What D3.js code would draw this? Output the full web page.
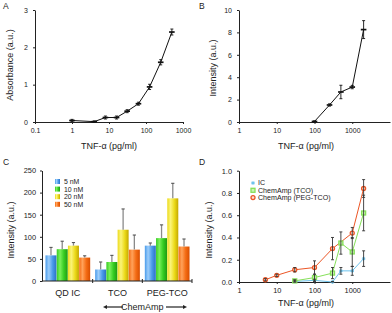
<!DOCTYPE html>
<html>
<head>
<meta charset="utf-8">
<script src="https://cdn.jsdelivr.net/npm/d3@7"></script>
<style>
  body { margin: 0; background: #fff; }
  svg { display: block; font-family: "Liberation Sans", Arial, sans-serif; }
  .axis path, .axis line { stroke: #222; }
  .axis text { fill: #222; font-size: 7px; font-family: "Liberation Sans", Arial, sans-serif; }
  .axis.big text { font-size: 7.4px; }
</style>
</head>
<body>
<script>
// panel A - absorbance
const aConc = [1, 4, 8, 16, 31, 62.5, 125, 250, 500];
const aAbs = [0.04, 0.01, 0.12, 0.12, 0.29, 0.49, 0.94, 1.6, 2.41];
const aErr = [0.03, 0.02, 0.04, 0.04, 0.04, 0.04, 0.07, 0.07, 0.08];
const aXTicks = [0.1, 1, 10, 100, 1000];
const aYTicks = [0, 1, 2, 3];

// panel B - intensity
const bConc = [100, 250, 500, 1000, 2000];
const bInt = [0.05, 1.52, 2.68, 3.12, 8.25];
const bErr = [0.05, 0.1, 0.6, 0.15, 0.8];
const bYTicks = [0, 2, 4, 6, 8, 10];

// panel C - bars
const cGroups = ["QD IC", "TCO", "PEG-TCO"];
const cLevels = ["5 nM", "10 nM", "20 nM", "50 nM"];
const cQD = [58, 72, 80, 53];
const cQDErr = [18, 18, 7, 4];
const cTCO = [26, 43, 116, 71];
const cTCOErr = [17, 15, 47, 33];
const cPEG = [80, 97, 187, 78];
const cPEGErr = [6, 30, 34, 17];
const cYTicks = [0, 50, 100, 150, 200, 250];

// panel D - three series
const dSeries = ["IC", "ChemAmp (TCO)", "ChemAmp (PEG-TCO)"];
const dConcIC = [30, 100, 300, 500, 1000, 2000];
const dIC = [0.005, 0.015, 0.0, 0.10, 0.10, 0.21];
const dICErr = [0.01, 0.01, 0.005, 0.03, 0.04, 0.07];
const dConcTCO = [30, 100, 300, 500, 1000, 2000];
const dTCO = [0.01, 0.04, 0.08, 0.35, 0.27, 0.62];
const dTCOErr = [0.01, 0.03, 0.05, 0.1, 0.13, 0.16];
const dConcPEG = [5, 10, 30, 100, 300, 1000, 2000];
const dPEG = [0.02, 0.06, 0.11, 0.13, 0.30, 0.44, 0.84];
const dPEGErr = [0.01, 0.01, 0.02, 0.06, 0.1, 0.05, 0.08];
const dXTicks = [1, 10, 100, 1000];
const dYTicks = [0, 0.2, 0.4, 0.6, 0.8, 1.0];

const svg = d3.select("body").append("svg").attr("width", 392).attr("height", 313);
svg.append("rect").attr("width", 392).attr("height", 313).attr("fill", "#fff");

function panelLetter(x, y, t) {
    svg.append("text").attr("x", x).attr("y", y).attr("font-size", 8.5).attr("fill", "#222").text(t);
}
function yTitle(x, y, t) {
    svg.append("text").attr("transform", "translate(" + x + "," + y + ") rotate(-90)")
        .attr("text-anchor", "middle").attr("font-size", 9).attr("fill", "#222").text(t);
}
function xTitle(x, y, t) {
    svg.append("text").attr("x", x).attr("y", y)
        .attr("text-anchor", "middle").attr("font-size", 9).attr("fill", "#222").text(t);
}

// log x / linear y line panel (A and B)
function blackPanel(xs, ys, conc, vals, errs, xTicks, yTicks, yFmt) {
    const y0 = ys.range()[0];
    const x0 = xs.range()[0];
    svg.append("g").attr("class", "axis").attr("transform", "translate(0," + y0 + ")")
        .call(d3.axisBottom(xs).tickValues(xTicks).tickFormat(d => String(d)).tickSize(2).tickPadding(4).tickSizeOuter(0));
    svg.append("g").attr("class", "axis").attr("transform", "translate(" + x0 + ",0)")
        .call(d3.axisLeft(ys).tickValues(yTicks).tickFormat(yFmt).tickSize(2).tickPadding(5).tickSizeOuter(0));

    const pts = conc.map((c, i) => [xs(c), ys(vals[i])]);
    svg.append("path").attr("d", d3.line()(pts)).attr("fill", "none").attr("stroke", "#111").attr("stroke-width", 1);
    conc.forEach((c, i) => {
        const x = xs(c);
        const top = ys(vals[i] + errs[i]), bot = ys(Math.max(0, vals[i] - errs[i]));
        svg.append("line").attr("x1", x).attr("x2", x).attr("y1", top).attr("y2", bot).attr("stroke", "#111").attr("stroke-width", 0.9);
        svg.append("line").attr("x1", x - 1.5).attr("x2", x + 1.5).attr("y1", top).attr("y2", top).attr("stroke", "#111").attr("stroke-width", 0.9);
        svg.append("line").attr("x1", x - 1.5).attr("x2", x + 1.5).attr("y1", bot).attr("y2", bot).attr("stroke", "#111").attr("stroke-width", 0.9);
        svg.append("line").attr("x1", x - 2.8).attr("x2", x + 2.8).attr("y1", ys(vals[i])).attr("y2", ys(vals[i])).attr("stroke", "#111").attr("stroke-width", 1.7);
    });
}

// ---- A
const xA = d3.scaleLog().domain([0.1, 1000]).range([35, 183]);
const yA = d3.scaleLinear().domain([0, 3]).range([122, 10]);
blackPanel(xA, yA, aConc, aAbs, aErr, aXTicks, aYTicks, d3.format("d"));
panelLetter(3, 9, "A");
yTitle(13, 65, "Absorbance (a.u.)");
xTitle(109, 149, "TNF-\u03b1 (pg/ml)");

// ---- B
const xB = d3.scaleLog().domain([1, 10000]).range([239, 390]);
const yB = d3.scaleLinear().domain([0, 10]).range([122, 10]);
blackPanel(xB, yB, bConc, bInt, bErr, [1, 10, 100, 1000], bYTicks, d3.format("d"));
panelLetter(199, 9, "B");
yTitle(216, 68, "Intensity (a.u.)");
xTitle(306, 149, "TNF-\u03b1 (pg/ml)");

// ---- C
const cVals = [cQD, cTCO, cPEG];
const cErrs = [cQDErr, cTCOErr, cPEGErr];
const cColors = [
    ["#9ccdfa", "#4a9bea", "#2c6fc6"],
    ["#7af05a", "#36cc22", "#1f9a12"],
    ["#fbf47a", "#ecdb1a", "#c4a800"],
    ["#ffa25a", "#f46c14", "#d84e00"]
];
const defs = svg.append("defs");
cColors.forEach((c, k) => {
    const g = defs.append("linearGradient").attr("id", "grad" + k).attr("x1", 0).attr("x2", 1).attr("y1", 0).attr("y2", 0);
    g.append("stop").attr("offset", "0%").attr("stop-color", c[1]);
    g.append("stop").attr("offset", "30%").attr("stop-color", c[0]);
    g.append("stop").attr("offset", "65%").attr("stop-color", c[1]);
    g.append("stop").attr("offset", "100%").attr("stop-color", c[2]);
});

const xC = d3.scaleBand().domain(cGroups).range([43, 192]).paddingInner(0.1).paddingOuter(0.05);
const xCi = d3.scaleBand().domain(cLevels).range([0, xC.bandwidth()]).paddingInner(0.02);
const yC = d3.scaleLinear().domain([0, 250]).range([281, 170.5]);

svg.append("g").attr("class", "axis big").attr("transform", "translate(42,0)")
    .call(d3.axisLeft(yC).tickValues(cYTicks).tickSize(2).tickPadding(4).tickSizeOuter(0));

cGroups.forEach((g, gi) => {
    cLevels.forEach((lv, k) => {
        const x = xC(g) + xCi(lv);
        const v = cVals[gi][k];
        svg.append("rect").attr("x", x).attr("y", yC(v)).attr("width", xCi.bandwidth())
            .attr("height", yC(0) - yC(v)).attr("fill", "url(#grad" + k + ")");
        const cx = x + xCi.bandwidth() / 2;
        const top = yC(v + cErrs[gi][k]);
        svg.append("line").attr("x1", cx).attr("x2", cx).attr("y1", yC(v)).attr("y2", top)
            .attr("stroke", "#8a8a8a").attr("stroke-width", 1.3);
        svg.append("line").attr("x1", cx - 1.6).attr("x2", cx + 1.6).attr("y1", top).attr("y2", top)
            .attr("stroke", "#555").attr("stroke-width", 1.1);
    });
    svg.append("text").attr("x", xC(g) + xC.bandwidth() / 2).attr("y", 296)
        .attr("text-anchor", "middle").attr("font-size", 9).attr("fill", "#222").text(g);
});
// category axis with boundary ticks
const cBounds = [xC.range()[0]].concat(cGroups.slice(1).map(g => xC(g) - xC.step() * xC.paddingInner() / 2), [xC.range()[1]]);
svg.append("line").attr("x1", 42).attr("x2", 192).attr("y1", 281).attr("y2", 281).attr("stroke", "#222");
cBounds.slice(1).forEach(b => {
    svg.append("line").attr("x1", b).attr("x2", b).attr("y1", 279).attr("y2", 283).attr("stroke", "#222");
});

// legend C
cLevels.forEach((lv, k) => {
    const ly = 182 + k * 7.6;
    svg.append("rect").attr("x", 55).attr("y", ly - 3).attr("width", 5).attr("height", 5).attr("fill", "url(#grad" + k + ")");
    svg.append("text").attr("x", 64).attr("y", ly + 2.2).attr("font-size", 6.9).attr("fill", "#222").text(lv);
});

// ChemAmp arrow label
const chemMid = (xC("TCO") + xC("PEG-TCO") + xC.bandwidth()) / 2;
svg.append("text").attr("x", chemMid).attr("y", 310).attr("text-anchor", "middle")
    .attr("font-size", 9).attr("fill", "#222").text("ChemAmp");
[[123, 103], [166, 187]].forEach(a => {
    const dir = a[1] > a[0] ? 1 : -1;
    svg.append("line").attr("x1", a[0]).attr("x2", a[1] - dir * 3).attr("y1", 307).attr("y2", 307)
        .attr("stroke", "#222").attr("stroke-width", 1.2);
    svg.append("path").attr("d", "M" + a[1] + ",307 L" + (a[1] - dir * 4) + ",305 L" + (a[1] - dir * 4) + ",309 Z").attr("fill", "#222");
});
panelLetter(3, 165, "C");
yTitle(14, 230, "Intensity (a.u.)");

// ---- D
const xD = d3.scaleLog().domain([1, 10000]).range([239, 390]);
const yD = d3.scaleLinear().domain([0, 1]).range([282, 170.7]);
svg.append("g").attr("class", "axis big").attr("transform", "translate(0,282)")
    .call(d3.axisBottom(xD).tickValues(dXTicks).tickFormat(d => String(d)).tickSize(2).tickPadding(4).tickSizeOuter(0));
svg.append("g").attr("class", "axis big").attr("transform", "translate(239,0)")
    .call(d3.axisLeft(yD).tickValues(dYTicks).tickFormat(d3.format(".1f")).tickSize(2).tickPadding(5).tickSizeOuter(0));

const dColors = ["#6cc2ec", "#86e05a", "#ec5626"];
const dData = [
    { conc: dConcIC, vals: dIC, errs: dICErr },
    { conc: dConcTCO, vals: dTCO, errs: dTCOErr },
    { conc: dConcPEG, vals: dPEG, errs: dPEGErr }
];

function dMarker(k, x, y) {
    if (k === 0) {
        const s = 1.8;
        [[0, s], [s * 0.87, s * 0.5], [s * 0.87, -s * 0.5]].forEach(v => {
            svg.append("line").attr("x1", x - v[0]).attr("x2", x + v[0]).attr("y1", y - v[1]).attr("y2", y + v[1])
                .attr("stroke", dColors[0]).attr("stroke-width", 1.1);
        });
    } else if (k === 1) {
        svg.append("rect").attr("x", x - 2).attr("y", y - 2).attr("width", 4).attr("height", 4)
            .attr("fill", "#c8f5b0").attr("stroke", dColors[1]).attr("stroke-width", 1.3);
    } else {
        svg.append("circle").attr("cx", x).attr("cy", y).attr("r", 2)
            .attr("fill", "#fbe0d4").attr("stroke", dColors[2]).attr("stroke-width", 1.3);
    }
}

dData.forEach((s, k) => {
    const pts = s.conc.map((c, i) => [xD(c), yD(s.vals[i])]);
    svg.append("path").attr("d", d3.line()(pts)).attr("fill", "none").attr("stroke", dColors[k]).attr("stroke-width", 1);
});
dData.forEach((s, k) => {
    s.conc.forEach((c, i) => dMarker(k, xD(c), yD(s.vals[i])));
});
dData.forEach((s, k) => {
    s.conc.forEach((c, i) => {
        const x = xD(c);
        const top = yD(s.vals[i] + s.errs[i]), bot = yD(Math.max(0, s.vals[i] - s.errs[i]));
        svg.append("line").attr("x1", x).attr("x2", x).attr("y1", top).attr("y2", bot).attr("stroke", "#333").attr("stroke-width", 0.9);
        [top, bot].forEach(yy => {
            svg.append("line").attr("x1", x - 1.5).attr("x2", x + 1.5).attr("y1", yy).attr("y2", yy).attr("stroke", "#333").attr("stroke-width", 0.9);
        });
    });
});

// legend D
dSeries.forEach((name, k) => {
    const ly = 183 + k * 7.3;
    dMarker(k, 253, ly);
    svg.append("text").attr("x", 258).attr("y", ly + 2.4).attr("font-size", 7.1).attr("fill", "#222").text(name);
});
panelLetter(199, 165, "D");
yTitle(212, 230, "Intensity (a.u.)");
xTitle(306, 306, "TNF-\u03b1 (pg/ml)");
</script>
</body>
</html>
